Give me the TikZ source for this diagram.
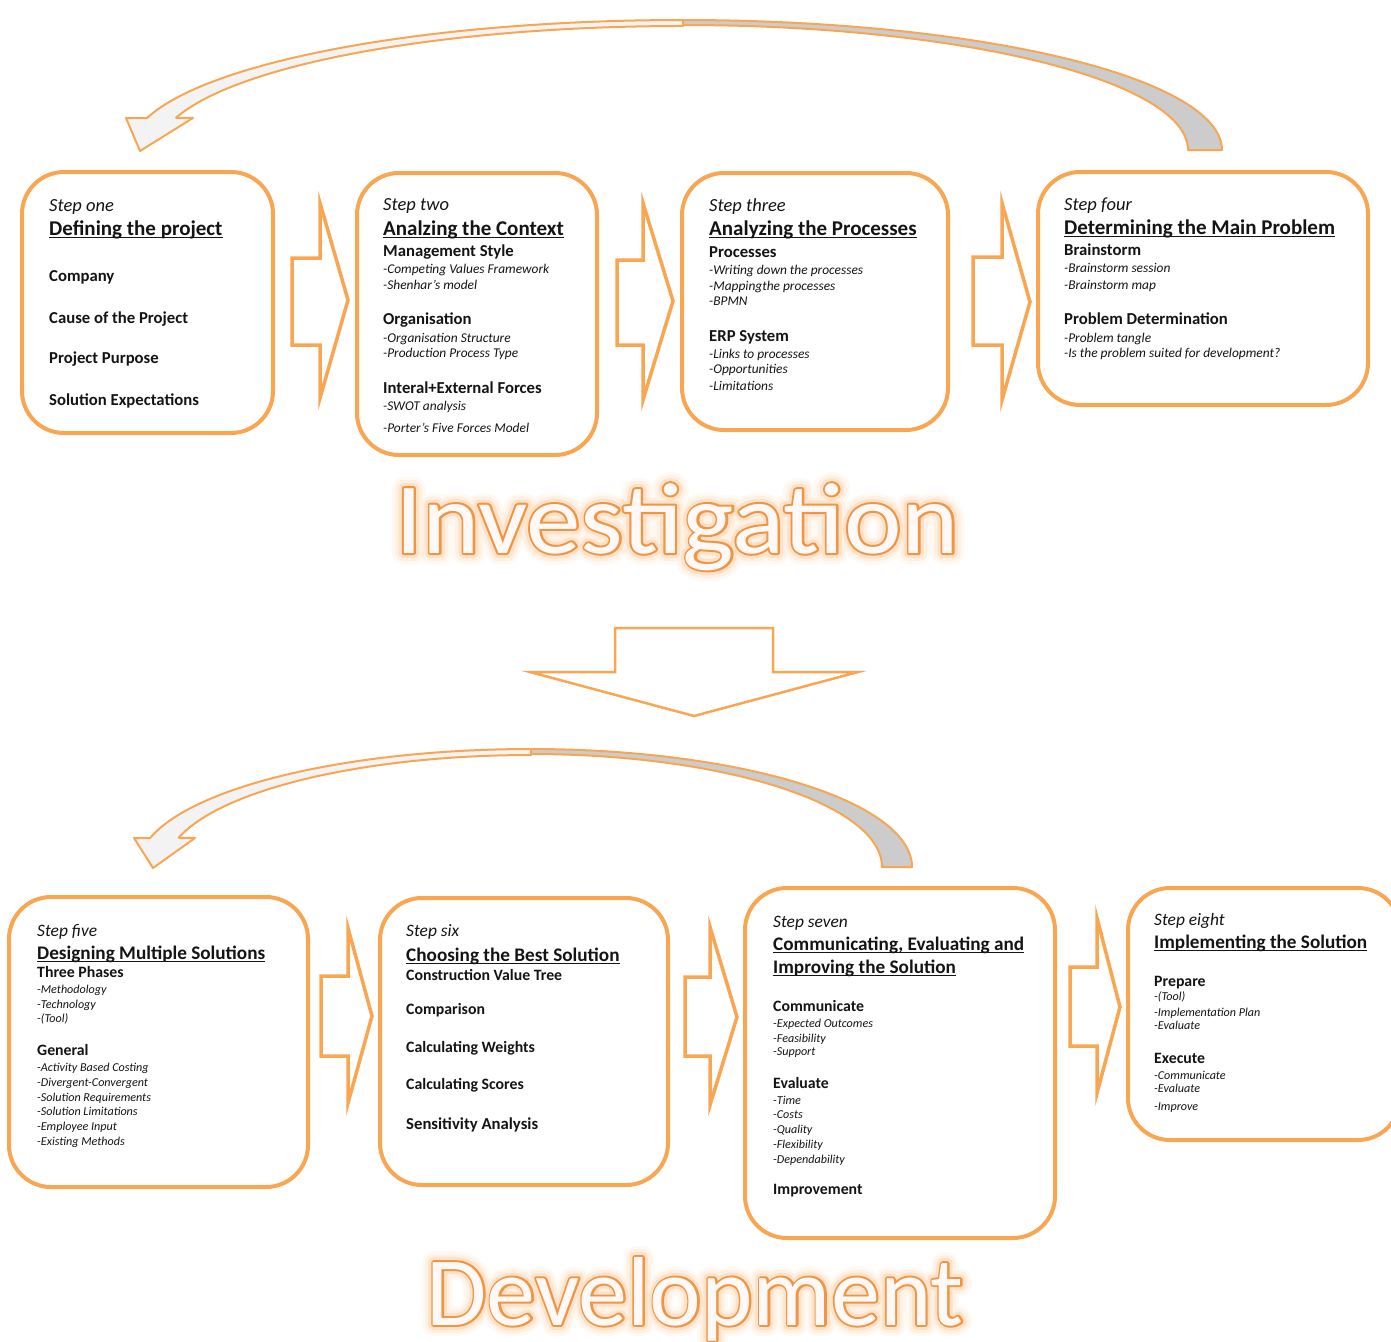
\documentclass[tikz,border=0pt]{standalone}
\usepackage{fontspec}
\setmainfont{Carlito}
% stroked faces of the caption font, for the outline and the glow around it
\newfontfamily\capfill{Carlito}
\newfontfamily\capline[FakeBold=4]{Carlito}
\newfontfamily\capglowA[FakeBold=10]{Carlito}
\newfontfamily\capglowB[FakeBold=16]{Carlito}
\newfontfamily\capglowC[FakeBold=22]{Carlito}
\definecolor{org}{RGB}{248,166,82}
\definecolor{orgdark}{RGB}{238,150,70}
\definecolor{bandback}{RGB}{204,204,204}
\definecolor{bandfront}{RGB}{243,243,243}
\definecolor{ink}{RGB}{20,20,20}
\definecolor{bigfill}{RGB}{254,249,246}

% text styles used inside the step boxes
\newcommand\steptxt{\fontsize{18.5}{21}\selectfont\itshape}
\newcommand\titletxt{\fontsize{21}{24}\selectfont\bfseries}
\newcommand\hdtxt{\fontsize{16.7}{19}\selectfont\bfseries}
\newcommand\subtxt{\fontsize{13.4}{15}\selectfont\itshape}
\newcommand\steptxtb{\fontsize{17.4}{20}\selectfont\itshape}
\newcommand\titletxtb{\fontsize{19.2}{22}\selectfont\bfseries}
\newcommand\hdtxtb{\fontsize{15.8}{18}\selectfont\bfseries}
\newcommand\subtxtb{\fontsize{12.1}{14}\selectfont\itshape}
\newcommand\ulbar[1]{\setbox0=\hbox{#1}\rlap{\rule[-3pt]{\wd0}{1.5pt}}\box0}

% one column of text lines: name prefix, x, list of baseline/text
\newcommand\textcol[3]{%
  \foreach \yy/\lab [count=\n] in {#3} {\node[txt] (#1-\n) at (#2,\yy) {\lab};}}

% outlined, glowing caption
\newcommand\glowword[1]{%
  \rlap{\capglowC\textcolor{org!7}{#1}}%
  \rlap{\capglowB\textcolor{org!16}{#1}}%
  \rlap{\capglowA\textcolor{org!32}{#1}}%
  \rlap{\capline\textcolor{orgdark}{#1}}%
  {\capfill\textcolor{bigfill}{#1}}}

\begin{document}
\begin{tikzpicture}[x=1pt,y=-1pt,
  box/.style={draw=org, line width=4pt, rounded corners=42pt, fill=white},
  blockarrow/.style={draw=org, line width=3.5pt, fill=white, line join=miter},
  txt/.style={anchor=base west, inner sep=0pt, text=ink},
  caption/.style={anchor=base, inner sep=0pt, line join=round},
  bent/.style={draw=org, line width=2pt, line join=round}]
\useasboundingbox (0,0) rectangle (1391,1341);
\clip (0,0) rectangle (1391,1341);

% ---------- step boxes ----------
\path[box] (22,172) rectangle (273,433);
\path[box] (357,173) rectangle (597,455);
\path[box] (682,173) rectangle (948,430);
\path[box] (1038,172) rectangle (1368,405);
\path[box] (9,897) rectangle (308,1187);
\path[box] (380,898) rectangle (668,1185);
\path[box] (745,888) rectangle (1055,1238);
\path[box] (1128,888) rectangle (1400,1140);

% ---------- block arrows between the steps ----------
\foreach \xs/\ya/\yb/\xb/\yc/\yd/\xt/\ym in {
   292/258/345/320/203/398/348/300,
   617/260/345/643/203/400/673/301,
   973/257/345/1002/203/400/1030/302,
   321/976/1056/348/928/1103/372/1016,
   685/977/1056/710/927/1105/737/1017,
   1070/967/1046/1097/918/1093/1120/1007}
  \path[blockarrow] (\xs,\ya) -- (\xb,\ya) -- (\xb,\yc) -- (\xt,\ym) -- (\xb,\yd) -- (\xb,\yb) -- (\xs,\yb) -- cycle;

% ---------- arrow from investigation to development ----------
\path[blockarrow, line width=2.5pt] (615,628) -- (773,628) -- (773,672) -- (858,672)
  -- (694,716) -- (530,672) -- (615,672) -- cycle;

% ---------- curved return arrow, top row ----------
\path[bent, fill=bandback]
  plot[domain=0:90, samples=60] ({683+539*cos(\x)}, {150-130*sin(\x)})
  -- plot[domain=90:0, samples=60] ({683+505*cos(\x)}, {150-125*sin(\x)}) -- cycle;
\path[bent, fill=bandfront]
  plot[domain=90:165.77, samples=60] ({683+553*cos(\x)}, {150-130*sin(\x)})
  -- (126,118) -- (140,151) -- (193,118)
  -- plot[domain=164.93:90, samples=60] ({683+525*cos(\x)}, {150-124*sin(\x)}) -- cycle;

% ---------- curved return arrow, bottom row ----------
\path[bent, fill=bandback]
  plot[domain=0:90, samples=60] ({531+381*cos(\x)}, {867-118*sin(\x)})
  -- plot[domain=90:0, samples=60] ({531+351*cos(\x)}, {867-113*sin(\x)}) -- cycle;
\path[bent, fill=bandfront]
  plot[domain=90:165.77, samples=60] ({531+393*cos(\x)}, {867-118*sin(\x)})
  -- (134,838) -- (153,868) -- (195,838)
  -- plot[domain=164.85:90, samples=60] ({531+365*cos(\x)}, {867-112*sin(\x)}) -- cycle;

% ---------- captions ----------
\node[caption] (inv) at (677,553)
  {\fontsize{101}{101}\selectfont\scalebox{1.08}[1]{\glowword{Investigation}}};
\node[caption] (dev) at (695,1325)
  {\fontsize{98}{98}\selectfont\glowword{Development}};

% ---------- texts of the steps ----------
\textcol{s1}{49}{211/{\steptxt Step one}, 235/{\titletxt\ulbar{Defining the project}},
  281/{\hdtxt Company}, 323/{\hdtxt Cause of the Project}, 363/{\hdtxt Project Purpose},
  405/{\hdtxt Solution Expectations}}

\textcol{s2}{383}{210/{\steptxt Step two}, 235/{\titletxt\ulbar{Analzing the Context}},
  256/{\hdtxt Management Style}, 273/{\subtxt -Competing Values Framework},
  289/{\subtxt -Shenhar's model}, 324/{\hdtxt Organisation},
  342/{\subtxt -Organisation Structure}, 357/{\subtxt -Production Process Type},
  393/{\hdtxt Interal+External Forces}, 410/{\subtxt -SWOT analysis},
  432/{\subtxt -Porter's Five Forces Model}}

\textcol{s3}{709}{211/{\steptxt Step three}, 235/{\titletxt\ulbar{Analyzing the Processes}},
  257/{\hdtxt Processes}, 274/{\subtxt -Writing down the processes},
  290/{\subtxt -Mappingthe processes}, 305/{\subtxt -BPMN},
  341/{\hdtxt ERP System}, 358/{\subtxt -Links to processes},
  373/{\subtxt -Opportunities}, 390/{\subtxt -Limitations}}

\textcol{s4}{1064}{210/{\steptxt Step four}, 234/{\titletxt\ulbar{Determining the Main Problem}},
  255/{\hdtxt Brainstorm}, 272/{\subtxt -Brainstorm session},
  289/{\subtxt -Brainstorm map}, 324/{\hdtxt Problem Determination},
  342/{\subtxt -Problem tangle}, 357/{\subtxt -Is the problem suited for development?}}

\textcol{s5}{37}{936/{\steptxtb Step five}, 959/{\titletxtb\ulbar{Designing Multiple Solutions}},
  977/{\hdtxtb Three Phases}, 993/{\subtxtb -Methodology}, 1008/{\subtxtb -Technology},
  1022/{\subtxtb -(Tool)}, 1055/{\hdtxtb General}, 1071/{\subtxtb -Activity Based Costing},
  1086/{\subtxtb -Divergent-Convergent}, 1101/{\subtxtb -Solution Requirements},
  1115/{\subtxtb -Solution Limitations}, 1130/{\subtxtb -Employee Input},
  1145/{\subtxtb -Existing Methods}}

\textcol{s6}{406}{936/{\steptxtb Step six}, 961/{\titletxtb\ulbar{Choosing the Best Solution}},
  980/{\hdtxtb Construction Value Tree}, 1014/{\hdtxtb Comparison},
  1052/{\hdtxtb Calculating Weights}, 1089/{\hdtxtb Calculating Scores},
  1129/{\hdtxt Sensitivity Analysis}}

\textcol{s7}{773}{927/{\steptxtb Step seven}, 950/{\titletxtb\ulbar{Communicating, Evaluating and}},
  973/{\titletxtb\ulbar{Improving the Solution}}, 1011/{\hdtxtb Communicate},
  1027/{\subtxtb -Expected Outcomes}, 1042/{\subtxtb -Feasibility}, 1055/{\subtxtb -Support},
  1088/{\hdtxtb Evaluate}, 1104/{\subtxtb -Time}, 1118/{\subtxtb -Costs},
  1133/{\subtxtb -Quality}, 1148/{\subtxtb -Flexibility}, 1163/{\subtxtb -Dependability},
  1194/{\hdtxtb Improvement}}

\textcol{s8}{1154}{925/{\steptxtb Step eight}, 948/{\titletxtb\ulbar{Implementing the Solution}},
  986/{\hdtxtb Prepare}, 1000/{\subtxtb -(Tool)}, 1016/{\subtxtb -Implementation Plan},
  1029/{\subtxtb -Evaluate}, 1063/{\hdtxtb Execute}, 1079/{\subtxtb -Communicate},
  1092/{\subtxtb -Evaluate}, 1110/{\subtxtb -Improve}}
\end{tikzpicture}
\end{document}
